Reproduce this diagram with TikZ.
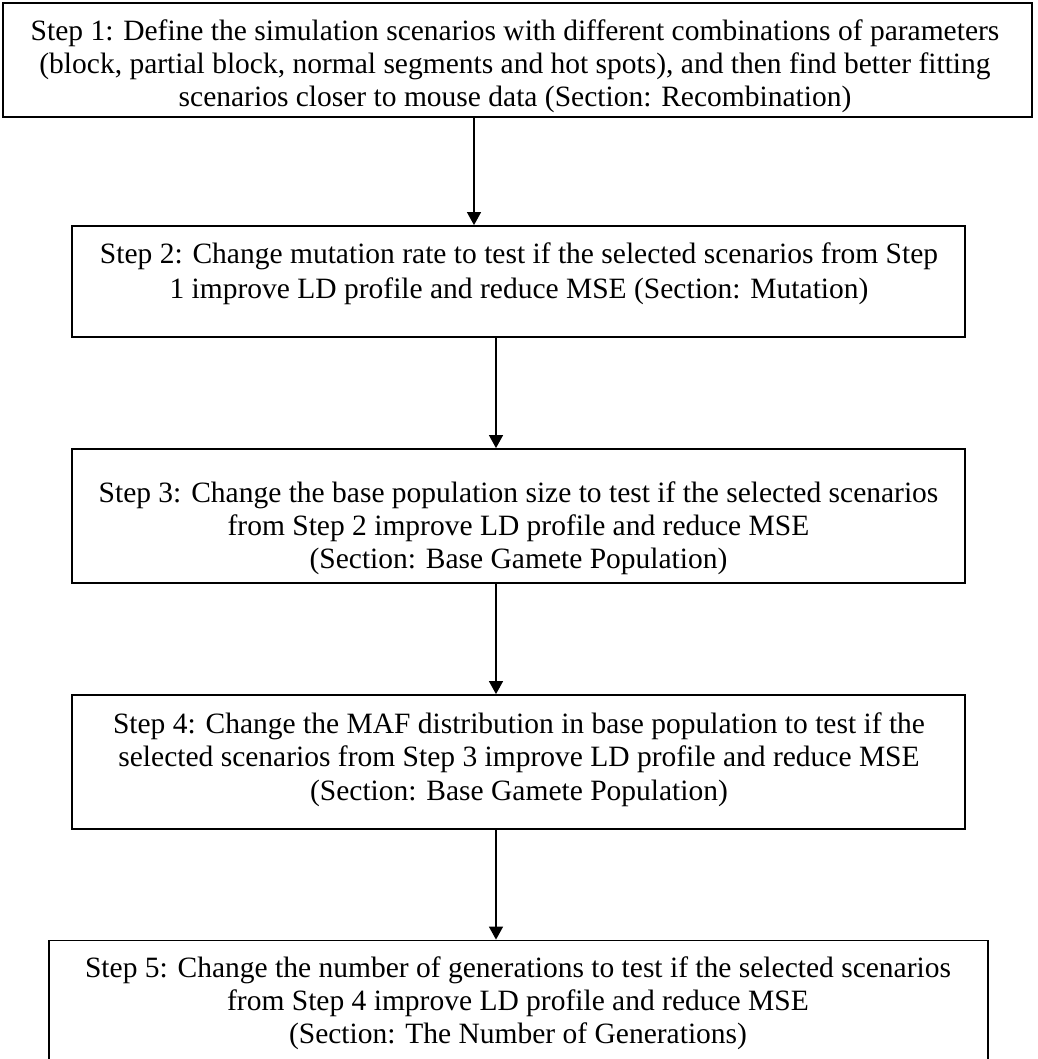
\documentclass[tikz,border=0pt]{standalone}
\usepackage{fontspec}
\setmainfont{Liberation Serif}
\usetikzlibrary{arrows.meta}
\begin{document}
\begin{tikzpicture}[x=1pt,y=-1pt,
  box/.style={draw, line width=1.8pt, inner sep=0pt},
  txt/.style={align=center, inner sep=0pt, anchor=base},
  arr/.style={line width=1.3pt, -{Triangle[length=13pt,width=14pt]}}]
\useasboundingbox (0,0) rectangle (1037,1059);
% boxes
\node[box, minimum width=1029pt, minimum height=114pt] (s1) at (517.5,60) {};
\node[box, minimum width=893pt, minimum height=111pt] (s2) at (518.5,281.5) {};
\node[box, minimum width=893pt, minimum height=134pt] (s3) at (518.5,516) {};
\node[box, minimum width=893pt, minimum height=134pt] (s4) at (518.5,762) {};
\node[box, minimum width=939pt, minimum height=121pt] (s5) at (518.5,1001) {};
% texts (anchor base = baseline of the last line)
\node[txt, font=\fontsize{29.5}{33}\selectfont] (t1) at (515,107) {Step 1: Define the simulation scenarios with different combinations of parameters\\
(block, partial block, normal segments and hot spots), and then find better fitting\\
scenarios closer to mouse data (Section: Recombination)};
\node[txt, font=\fontsize{29.5}{35}\selectfont] (t2) at (519,298) {Step 2: Change mutation rate to test if the selected scenarios from Step\\
1 improve LD profile and reduce MSE (Section: Mutation)};
\node[txt, font=\fontsize{29.5}{33}\selectfont] (t3) at (518.5,568) {Step 3: Change the base population size to test if the selected scenarios\\
from Step 2 improve LD profile and reduce MSE\\
(Section: Base Gamete Population)};
\node[txt, font=\fontsize{29.5}{33.5}\selectfont] (t4) at (519,800) {Step 4: Change the MAF distribution in base population to test if the\\
selected scenarios from Step 3 improve LD profile and reduce MSE\\
(Section: Base Gamete Population)};
\node[txt, font=\fontsize{29.5}{33}\selectfont] (t5) at (518,1043) {Step 5: Change the number of generations to test if the selected scenarios\\
from Step 4 improve LD profile and reduce MSE\\
(Section: The Number of Generations)};
% connectors
\coordinate (a1) at (474,0);
\coordinate (a2) at (496,0);
\draw[arr] (s1.south -| a1) -- (s2.north -| a1);
\draw[arr] (s2.south -| a2) -- (s3.north -| a2);
\draw[arr] (s3.south -| a2) -- (s4.north -| a2);
\draw[arr] (s4.south -| a2) -- (s5.north -| a2);
\end{tikzpicture}
\end{document}
